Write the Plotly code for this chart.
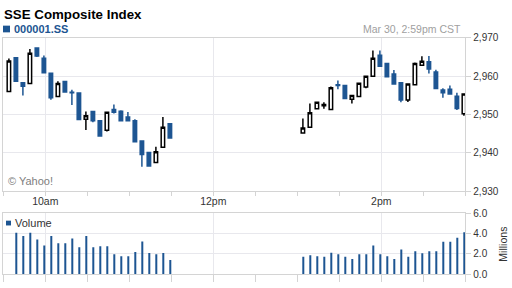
import plotly.graph_objects as go

DAY = "2011-03-30"
TIMES = ["09:34", "09:39", "09:44", "09:49", "09:54", "09:59", "10:04", "10:09",
         "10:14", "10:19", "10:24", "10:29", "10:34", "10:39", "10:44", "10:49",
         "10:54", "10:59", "11:04", "11:09", "11:14", "11:19", "11:24", "11:29",
         "13:04", "13:09", "13:14", "13:19", "13:24", "13:29", "13:34", "13:39",
         "13:44", "13:49", "13:54", "13:59", "14:04", "14:09", "14:14", "14:19",
         "14:24", "14:29", "14:34", "14:39", "14:44", "14:49", "14:54", "14:59"]

OPEN = [2956.0, 2964.8, 2958.3, 2958.1, 2967.4, 2964.7, 2960.8, 2954.7,
        2958.6, 2955.8, 2955.6, 2948.8, 2950.8, 2948.4, 2945.9, 2951.3,
        2950.9, 2949.4, 2948.4, 2943.1, 2940.1, 2937.5, 2941.5, 2947.6,
        2945.2, 2946.7, 2951.5, 2952.3, 2951.3, 2957.8, 2957.6, 2954.0,
        2954.7, 2957.2, 2960.0, 2965.5, 2963.3, 2960.6, 2958.3, 2953.8,
        2957.8, 2962.9, 2963.8, 2961.1, 2956.4, 2956.6, 2954.8, 2950.2]
HIGH = [2964.6, 2964.8, 2958.3, 2967.1, 2967.4, 2965.4, 2960.8, 2958.7,
        2958.7, 2956.5, 2955.6, 2950.8, 2950.8, 2948.4, 2950.6, 2952.6,
        2951.1, 2950.7, 2948.8, 2943.1, 2940.1, 2941.6, 2949.4, 2947.6,
        2949.0, 2952.9, 2953.2, 2953.2, 2957.3, 2958.9, 2957.8, 2955.0,
        2958.2, 2960.0, 2966.7, 2966.7, 2963.3, 2961.6, 2958.3, 2958.0,
        2963.6, 2965.2, 2965.3, 2961.7, 2956.9, 2957.6, 2955.7, 2955.4]
LOW = [2956.0, 2958.7, 2955.0, 2958.1, 2965.0, 2960.7, 2953.9, 2954.7,
       2955.9, 2952.5, 2948.7, 2946.0, 2948.0, 2944.4, 2945.6, 2950.3,
       2948.4, 2948.4, 2942.9, 2936.4, 2936.6, 2937.5, 2941.5, 2943.9,
       2945.2, 2946.7, 2951.5, 2951.5, 2951.3, 2956.6, 2954.2, 2952.9,
       2954.7, 2956.9, 2960.0, 2962.6, 2959.9, 2958.0, 2953.2, 2953.3,
       2957.8, 2962.9, 2960.7, 2956.6, 2954.4, 2955.4, 2951.2, 2949.7]
CLOSE = [2964.0, 2958.7, 2957.4, 2966.0, 2965.3, 2960.9, 2954.4, 2958.1,
         2955.9, 2955.7, 2948.7, 2949.7, 2948.4, 2944.4, 2950.6, 2950.6,
         2948.4, 2948.4, 2942.9, 2939.6, 2936.6, 2940.3, 2946.7, 2943.9,
         2946.5, 2950.5, 2953.2, 2952.6, 2957.0, 2957.6, 2954.2, 2955.0,
         2958.2, 2960.0, 2964.7, 2962.6, 2959.9, 2958.0, 2953.8, 2958.0,
         2963.3, 2963.9, 2961.9, 2956.8, 2955.7, 2955.4, 2951.6, 2955.4]
VOLUME_M = [0.0, 4.06, 3.75, 4.06, 3.41, 2.81, 3.75, 3.03,
            3.03, 3.5, 2.66, 3.75, 2.66, 2.75, 2.75, 1.97,
            1.78, 1.78, 2.19, 3.22, 2.09, 1.97, 2.09, 1.41,
            1.72, 1.87, 1.78, 1.72, 2.12, 1.97, 1.72, 1.5,
            1.97, 1.97, 2.81, 1.97, 1.78, 1.5, 2.44, 1.72,
            2.25, 2.06, 2.25, 2.25, 3.19, 3.19, 3.59, 4.12]

PRICE_TICKS = [2930, 2940, 2950, 2960, 2970]
VOL_TICKS = [0, 2, 4, 6]
TIME_TICKS = ["10:00", "12:00", "14:00"]
TIME_LABELS = ["10am", "12pm", "2pm"]
MINOR_TICKS = ["09:30", "10:00", "10:30", "11:00", "11:30", "12:00", "12:30",
               "13:00", "13:30", "14:00", "14:30", "15:00"]

BLUE = "#1d5592"
GRID = "#e8e8ed"
AXIS = "#d4d4d4"
FONT = "Liberation Sans, Arial, sans-serif"

W, H = 512, 288


def px(x):
    return x / W


def py(y):
    return 1 - y / H


x = [f"{DAY} {t}" for t in TIMES]
xr = [f"{DAY} 09:30", f"{DAY} 15:00"]

fig = go.Figure()
fig.add_trace(go.Candlestick(
    x=x, open=OPEN, high=HIGH, low=LOW, close=CLOSE,
    increasing=dict(line=dict(color="#000000", width=1.5), fillcolor="#ffffff"),
    decreasing=dict(line=dict(color=BLUE, width=1.5), fillcolor=BLUE),
    whiskerwidth=0, xaxis="x", yaxis="y", showlegend=False,
))
fig.add_trace(go.Bar(
    x=x, y=VOLUME_M, marker=dict(color=BLUE, line=dict(width=0)),
    width=0.75 * 60000, xaxis="x2", yaxis="y2", showlegend=False,
))

xdom = [px(3.3), px(465.3)]
common_x = dict(
    type="date", range=xr, domain=xdom, showline=True, mirror=True,
    linecolor=AXIS, linewidth=1, showgrid=True, gridcolor=GRID,
    tickmode="array", tickvals=[f"{DAY} {t}" for t in TIME_TICKS],
    ticks="", zeroline=False, fixedrange=True,
    minor=dict(tickmode="array", tickvals=[f"{DAY} {t}" for t in MINOR_TICKS],
               ticks="outside", ticklen=4, tickcolor=AXIS, showgrid=False),
)

fig.update_layout(
    width=W, height=H, margin=dict(l=0, r=0, t=0, b=0),
    paper_bgcolor="#ffffff", plot_bgcolor="#ffffff",
    font=dict(family=FONT, size=10, color="#333333"),
    showlegend=False, boxgap=0.3,
    xaxis=dict(common_x, anchor="y", ticktext=TIME_LABELS, showticklabels=True,
               rangeslider=dict(visible=False),
               tickfont=dict(size=10.5, color="#333333")),
    xaxis2=dict(common_x, anchor="y2", ticktext=TIME_LABELS, showticklabels=False,
                minor=dict(tickmode="array",
                           tickvals=[f"{DAY} {t}" for t in MINOR_TICKS],
                           ticks="outside", ticklen=7, tickcolor=AXIS, showgrid=False)),
    yaxis=dict(domain=[py(193.3), py(33.3)], range=[2930, 2970], side="right",
               anchor="x", showline=True, mirror=True, linecolor=AXIS,
               showgrid=True, gridcolor=GRID, zeroline=False,
               tickmode="array", tickvals=PRICE_TICKS, tickformat=",d",
               ticks="outside", ticklen=5, tickcolor=AXIS, fixedrange=True),
    yaxis2=dict(domain=[py(280), py(216)], range=[0, 6], side="right",
                anchor="x2", showline=True, mirror=True, linecolor=AXIS,
                showgrid=True, gridcolor=GRID, zeroline=False,
                tickmode="array", tickvals=VOL_TICKS, tickformat=".1f",
                ticks="outside", ticklen=5, tickcolor=AXIS, fixedrange=True),
)

fig.add_annotation(text="<b>SSE Composite Index</b>", x=px(2), y=py(8.5),
                   xref="paper", yref="paper", xanchor="left", yanchor="middle",
                   showarrow=False, font=dict(size=13.3, color="#000000", family=FONT))
fig.add_shape(type="rect", xref="paper", yref="paper",
              x0=px(3), x1=px(10), y0=py(27.5), y1=py(20.5),
              fillcolor=BLUE, line=dict(width=0))
fig.add_annotation(text="<b>000001.SS</b>", x=px(11.5), y=py(24),
                   xref="paper", yref="paper", xanchor="left", yanchor="middle",
                   showarrow=False, font=dict(size=11, color=BLUE, family=FONT))
fig.add_annotation(text="Mar 30, 2:59pm CST", x=px(463), y=py(24),
                   xref="paper", yref="paper", xanchor="right", yanchor="middle",
                   showarrow=False, font=dict(size=10.5, color="#a0a0a0", family=FONT))
fig.add_annotation(text="© Yahoo!", x=px(6), y=py(183),
                   xref="paper", yref="paper", xanchor="left", yanchor="middle",
                   showarrow=False, font=dict(size=11, color="#808080", family=FONT))
fig.add_shape(type="rect", xref="paper", yref="paper",
              x0=px(6), x1=px(11), y0=py(229), y1=py(224),
              fillcolor=BLUE, line=dict(width=0))
fig.add_annotation(text="Volume", x=px(12.5), y=py(226.5),
                   xref="paper", yref="paper", xanchor="left", yanchor="middle",
                   showarrow=False, font=dict(size=11, color="#333333", family=FONT))
fig.add_annotation(text="Millions", x=px(503), y=py(249),
                   xref="paper", yref="paper", xanchor="center", yanchor="middle",
                   textangle=-90, showarrow=False,
                   font=dict(size=10.5, color="#333333", family=FONT))

fig.write_html("out.html")
